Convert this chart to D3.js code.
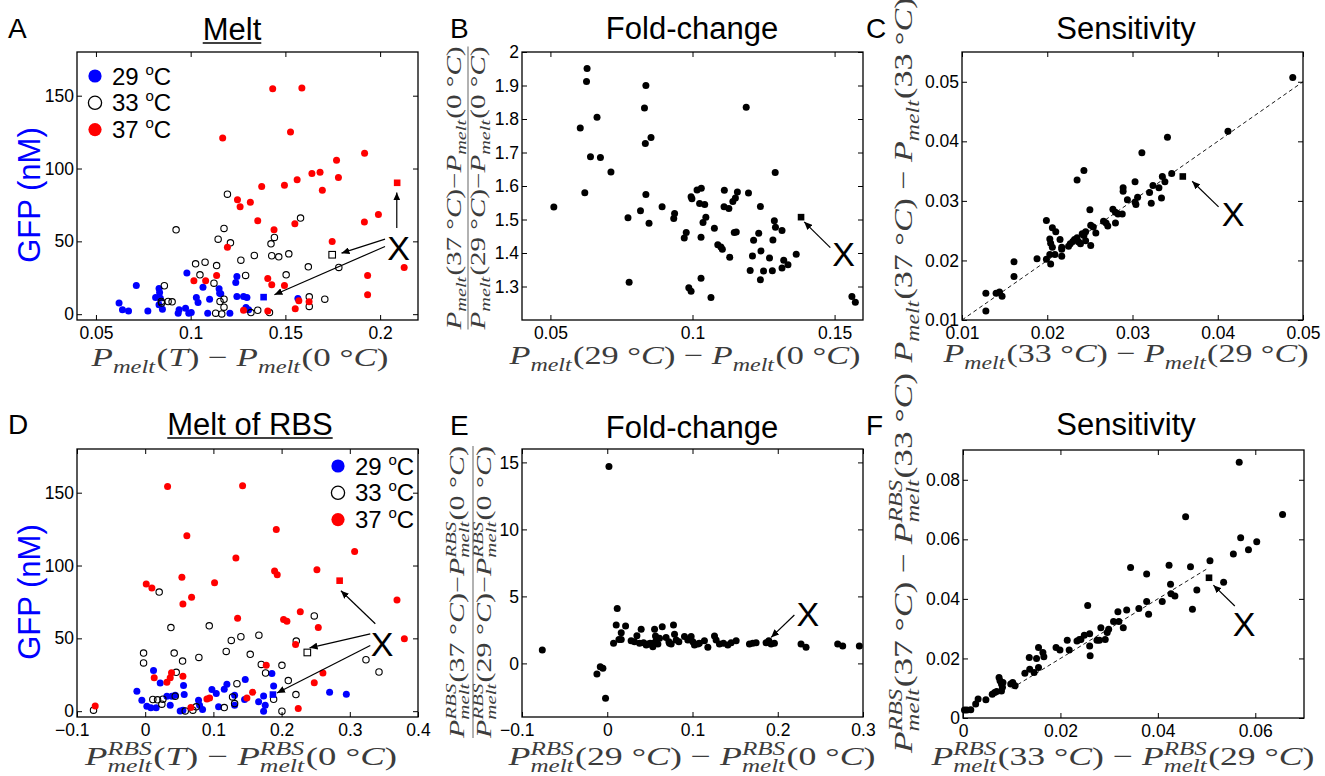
<!DOCTYPE html>
<html>
<head>
<meta charset="utf-8">
<script src="https://cdn.jsdelivr.net/npm/d3@7"></script>
<style>
  body { margin: 0; background: #fff; }
  svg { display: block; font-family: "Liberation Sans", Arial, Helvetica, sans-serif; }
  .math text { font-family: "Liberation Serif", "DejaVu Serif", serif; fill: #3c3c3c; white-space: pre; }
</style>
</head>
<body>
<svg id="fig" width="1325" height="776"></svg>
<script>

// ---- data ----

// A: GFP vs Pmelt(T) - Pmelt(0C)
const meltA29 = [[0.0622,7.6],[0.064,3],[0.0672,2.1],[0.0713,19.7],[0.0774,2.1],[0.0815,11.4],[0.0833,17.6],[0.0836,14.9],
  [0.0833,6.4],[0.0851,3.4],[0.084,11],[0.0934,0.7],[0.0939,3],[0.0973,4.1],[0.098,28.2],[0.099,0.7],[0.1003,1.1],
  [0.103,11.4],[0.1039,8],[0.1065,18.5],[0.109,0.7],[0.11,10.3],[0.115,17.4],[0.1153,14.4],[0.1159,14],[0.1207,0.7],
  [0.1238,21.8],[0.1244,25.9],[0.1244,12.1],[0.1279,12.1],[0.1297,11.4],[0.1292,4.6],[0.1306,3],[0.1566,10.8]];
const meltA33 = [[0.0923,57.9],[0.1194,82.4],[0.1176,58.9],[0.1145,51.5],[0.121,49],[0.1442,52.7],[0.1424,48.3],[0.158,66],
  [0.1026,34.6],[0.1076,35.7],[0.1049,27],[0.1137,33.4],[0.1265,37.1],[0.1336,40.3],[0.1428,40.1],[0.1465,39.4],
  [0.1518,41.4],[0.1123,21.3],[0.129,26.6],[0.1504,27],[0.0861,19.5],[0.0845,8.7],[0.0881,8.7],[0.0902,8.5],
  [0.0847,7.6],[0.1155,8.7],[0.1176,10.3],[0.1176,4.8],[0.1132,0.7],[0.1164,0.2],[0.1318,1.1],[0.1354,2.7],
  [0.1416,1.1],[0.1621,32.5],[0.1782,32.1],[0.1626,11.9],[0.1626,5.3],[0.1708,10.3]];
const meltA37 = [[0.1433,154.8],[0.1587,155.3],[0.1169,120.9],[0.1527,125],[0.1918,110.4],[0.177,105.6],[0.1683,97.5],
  [0.164,96.6],[0.178,93.9],[0.1562,92.3],[0.1495,88.6],[0.1375,87.7],[0.1695,85],[0.1247,78.5],[0.1315,76.9],
  [0.1261,73.7],[0.1354,64.1],[0.1991,68.5],[0.1917,63.2],[0.155,62.1],[0.144,57.9],[0.1747,49.9],[0.1194,46],
  [0.2127,32.1],[0.1017,22.9],[0.1079,22.9],[0.1137,26.6],[0.1407,24.5],[0.1428,20.2],[0.1495,19.7],[0.1934,26.6],
  [0.1934,13.3],[0.1279,2.7],[0.1407,2.1],[0.1552,3.7],[0.1571,9.2],[0.1625,8.5]];
const meltAX = [[0.1385,11.7],[0.1747,40.8],[0.209,90.2]]; // sequence X at 29, 33, 37 C

// B: fold-change vs Pmelt(29C) - Pmelt(0C)
const foldB = [[0.0512,1.537],[0.0605,1.773],[0.0629,1.951],[0.0627,1.912],[0.0664,1.805],[0.0641,1.687],[0.0676,1.685],
  [0.0621,1.58],[0.0713,1.642],[0.0773,1.505],[0.0777,1.313],[0.0817,1.526],[0.0836,1.9],[0.0831,1.833],[0.0834,1.727],
  [0.0854,1.745],[0.0836,1.575],[0.0847,1.489],[0.0893,1.538],[0.0934,1.503],[0.0937,1.518],[0.0978,1.461],[0.0971,1.445],
  [0.0995,1.568],[0.0998,1.562],[0.0987,1.296],[0.0995,1.286],[0.1016,1.588],[0.1031,1.593],[0.1025,1.548],[0.1043,1.545],
  [0.103,1.447],[0.1037,1.491],[0.1047,1.507],[0.103,1.325],[0.1065,1.267],[0.1077,1.474],[0.1089,1.425],[0.11,1.418],
  [0.1105,1.411],[0.1112,1.587],[0.1111,1.538],[0.1128,1.533],[0.1131,1.387],[0.1142,1.554],[0.1151,1.564],[0.1158,1.582],
  [0.1147,1.461],[0.1154,1.463],[0.1189,1.835],[0.1197,1.579],[0.1203,1.348],[0.1211,1.391],[0.1215,1.438],[0.1233,1.459],
  [0.1239,1.539],[0.1241,1.406],[0.1239,1.32],[0.125,1.346],[0.1271,1.385],[0.1281,1.347],[0.1283,1.439],[0.1288,1.496],
  [0.1292,1.477],[0.1291,1.64],[0.1315,1.467],[0.1315,1.355],[0.1321,1.378],[0.1336,1.365],[0.1365,1.396],
  [0.1561,1.27],[0.1573,1.253]];
const foldBX = [[0.1382,1.507]];

// C: sensitivity, Pmelt(37)-Pmelt(33) vs Pmelt(33)-Pmelt(29)
const sensC = [[0.0128,0.0115],[0.0128,0.0145],[0.014,0.0145],[0.0144,0.0147],[0.0147,0.014],[0.0161,0.0198],[0.0161,0.0173],
  [0.0188,0.0203],[0.0199,0.0267],[0.0199,0.0202],[0.0203,0.0236],[0.0204,0.0229],[0.0206,0.0222],[0.0204,0.0194],
  [0.0203,0.021],[0.0206,0.0255],[0.021,0.0248],[0.0209,0.021],[0.0215,0.0235],[0.0217,0.0222],[0.0217,0.0219],
  [0.0217,0.0207],[0.0225,0.0224],[0.0227,0.0228],[0.023,0.0232],[0.0232,0.0235],[0.0235,0.0238],[0.0235,0.0335],
  [0.0243,0.0351],[0.0237,0.0231],[0.0239,0.0228],[0.0241,0.0245],[0.0243,0.0242],[0.0245,0.0248],[0.025,0.0285],
  [0.0251,0.0259],[0.0254,0.0256],[0.0251,0.0225],[0.0245,0.0233],[0.0257,0.0246],[0.0266,0.0266],[0.0269,0.0263],
  [0.0271,0.0258],[0.0277,0.0286],[0.028,0.0281],[0.0283,0.0278],[0.028,0.0263],[0.0288,0.0278],[0.0289,0.0322],
  [0.0289,0.0316],[0.0294,0.0302],[0.0303,0.0332],[0.0303,0.0298],[0.0304,0.0294],[0.0306,0.0306],[0.0311,0.0381],
  [0.032,0.0314],[0.0322,0.0296],[0.0324,0.0326],[0.0331,0.0322],[0.0334,0.0305],[0.0335,0.0341],[0.0338,0.0332],
  [0.0341,0.0407],[0.0346,0.0346],[0.0412,0.0417],[0.0488,0.0507]];
const sensCX = [[0.0359,0.0341]];

// D: GFP vs Pmelt^RBS(T) - Pmelt^RBS(0C)
const rbsD29 = [[-0.0122,13.7],[-0.0049,7.5],[0.0024,3.4],[0.0083,2.3],[0.0161,2.3],[0.0122,28],[0.022,19.4],[0.0318,10.3],
  [0.0367,4.1],[0.0391,10.3],[0.044,10.9],[0.0513,0.2],[0.0553,0.7],[0.0562,17.6],[0.0572,11.4],[0.0782,7.5],[0.0797,4.1],
  [0.0841,1.1],[0.0978,14.8],[0.1042,12.1],[0.1076,3],[0.1159,15],[0.1198,18.5],[0.1311,4.1],[0.1311,10.9],[0.1467,21.7],
  [0.1457,8],[0.1663,6.4],[0.1736,10.5],[0.176,4.1],[0.1736,0],[0.1858,25.8],[0.1883,17.3],[0.2704,13],[0.2949,11.6]];
const rbsD33 = [[-0.0758,0.7],[-0.0024,39.9],[-0.0024,33.1],[0.0205,81.8],[0.0112,8],[0.0181,7.8],[0.0259,8.2],[0.0244,4.8],
  [0.0377,57.4],[0.0425,39.9],[0.0455,26.7],[0.044,10.3],[0.0548,34.4],[0.0587,0.2],[0.0699,0.7],[0.0748,3],[0.0787,36.9],
  [0.0939,58.6],[0.1159,2.5],[0.1188,41],[0.1262,48.6],[0.1281,9.8],[0.1311,5.2],[0.1345,18.9],[0.1403,51.1],[0.154,39],
  [0.1667,52.2],[0.1702,32.1],[0.1765,26.2],[0.1883,8.2],[0.2005,31.5],[0.2005,0],[0.2098,21],[0.221,11.4],[0.2215,48.1],
  [0.2479,65.4],[0.3237,35.3],[0.3428,26.9]];
const rbsD37 = [[-0.0733,3.6],[0.0015,87.3],[0.0098,84.6],[0.0132,23],[0.0328,154.3],[0.0318,19.8],[0.0367,23],[0.0386,26.4],
  [0.0553,23.9],[0.0538,91.9],[0.0553,73.6],[0.0611,120.4],[0.068,78.2],[0.067,2.5],[0.0905,8.4],[0.0944,9.1],[0.1017,88.2],
  [0.133,105.1],[0.1355,63.8],[0.1428,154.8],[0.1491,9.1],[0.1575,13],[0.1775,31.5],[0.1897,96.2],[0.1936,93.7],
  [0.1922,124.7],[0.2029,62.9],[0.2078,61.8],[0.2205,45.8],[0.2244,1.8],[0.2274,68.2],[0.2479,19.6],[0.2518,97.1],
  [0.2538,57.4],[0.2606,26.2],[0.3071,109.6],[0.3692,76.4],[0.38,49.7]];
const rbsDX = [[0.1873,11.4],[0.2377,40.3],[0.2851,89.6]];

// E: fold-change of RBS melt vs Pmelt^RBS(29C) - Pmelt^RBS(0C)
const foldE = [[-0.0762,1.0],[0.002,14.7],[-0.0121,-0.8],[-0.0082,-0.25],[-0.0051,-0.37],[-0.002,-2.6],[0.0117,4.1],
  [0.0105,2.87],[0.0215,2.79],[0.0164,2.29],[0.0164,1.79],[0.0137,1.79],[0.0074,1.5],[0.0348,2.07],[0.0398,2.54],
  [0.032,1.62],[0.0379,1.5],[0.0426,1.55],[0.0477,1.45],[0.0504,1.5],[0.0527,1.37],[0.0555,1.55],[0.0574,1.69],
  [0.0535,1.25],[0.0555,2.54],[0.0645,2.74],[0.0566,2.04],[0.069,1.94],[0.0723,1.62],[0.073,1.5],[0.0777,2.87],
  [0.0789,2.17],[0.0809,1.74],[0.084,1.62],[0.0906,2.0],[0.0945,1.74],[0.0984,2.0],[0.1004,1.62],[0.1023,1.37],
  [0.1063,1.45],[0.114,1.69],[0.118,1.2],[0.1258,2.04],[0.1277,1.74],[0.1316,1.45],[0.1363,1.5],[0.1414,1.37],
  [0.1453,1.55],[0.1512,1.69],[0.1668,1.45],[0.1707,1.5],[0.1746,1.55],[0.1863,1.55],[0.1895,1.69],[0.1922,1.45],
  [0.1961,1.5],[0.2273,1.45],[0.2332,1.2],[0.2703,1.45],[0.2762,1.3],[0.2957,1.3],[0.028,1.69],[0.0457,1.37],
  [0.0594,1.45],[0.0613,1.87],[0.075,1.45],[0.108,1.5]];

// F: sensitivity of RBS melt
const sensF = [[0.0003,0.0027],[0.0008,0.0027],[0.0016,0.0028],[0.0026,0.0047],[0.0031,0.0064],[0.0047,0.0061],
  [0.006,0.008],[0.0065,0.0086],[0.0069,0.0089],[0.0074,0.0136],[0.0076,0.0125],[0.0079,0.0114],[0.0082,0.0119],
  [0.0079,0.0091],[0.0081,0.0103],[0.0098,0.0114],[0.0102,0.0119],[0.0107,0.0108],[0.0127,0.015],[0.0136,0.0203],
  [0.0137,0.0164],[0.0146,0.0153],[0.0151,0.02],[0.0155,0.017],[0.0155,0.0237],[0.0164,0.022],[0.0166,0.0206],
  [0.0191,0.0237],[0.0199,0.0228],[0.0214,0.0261],[0.0218,0.0228],[0.0234,0.0259],[0.0239,0.0264],[0.0242,0.0264],
  [0.0249,0.0278],[0.026,0.0283],[0.0256,0.0378],[0.026,0.0242],[0.0261,0.0209],[0.0275,0.0261],[0.028,0.0261],
  [0.0283,0.0303],[0.0292,0.0264],[0.0296,0.0287],[0.0299,0.0298],[0.0309,0.0324],[0.0318,0.0357],[0.032,0.0324],
  [0.0329,0.0303],[0.0336,0.0363],[0.0344,0.0505],[0.0361,0.0368],[0.0377,0.0391],[0.0381,0.0348],[0.0377,0.0484],
  [0.0409,0.0391],[0.0423,0.0513],[0.0426,0.0449],[0.0427,0.0417],[0.0435,0.041],[0.0457,0.0676],[0.0467,0.0508],
  [0.0471,0.0365],[0.048,0.043],[0.0507,0.0528],[0.0535,0.0456],[0.0555,0.0551],[0.0567,0.0859],[0.057,0.0605],
  [0.0586,0.0565],[0.0603,0.0592],[0.0656,0.0683]];
const sensFX = [[0.0505,0.0471]];

// y = x reference segments for the sensitivity panels
const diagC = [0.01, 0.05];
const diagF = [0.01, 0.05];

// tick values
const ticksMeltX = [0.05, 0.1, 0.15, 0.2];
const ticksGFP = [0, 50, 100, 150];
const ticksFoldBX = [0.05, 0.1, 0.15];
const ticksFoldBY = [1.3, 1.4, 1.5, 1.6, 1.7, 1.8, 1.9, 2];
const ticksSensC = [0.01, 0.02, 0.03, 0.04, 0.05];
const ticksRbsX = [-0.1, 0, 0.1, 0.2, 0.3, 0.4];
const ticksFoldEX = [-0.1, 0, 0.1, 0.2, 0.3];
const ticksFoldEY = [0, 5, 10, 15];
const ticksSensFX = [0, 0.02, 0.04, 0.06];
const ticksSensFY = [0, 0.02, 0.04, 0.06, 0.08];

const tempLabels = ["29", "33", "37"];
const tempColors = ["#0000ff", "none", "#ff0000"];

// ---- drawing ----

const svg = d3.select("#fig");
const W = 341, H = 268;

const defs = svg.append("defs");
defs.append("marker")
  .attr("id", "head")
  .attr("viewBox", "0 -3.5 8 7")
  .attr("refX", 8).attr("refY", 0)
  .attr("markerWidth", 8).attr("markerHeight", 7)
  .attr("markerUnits", "userSpaceOnUse")
  .attr("orient", "auto")
  .append("path").attr("d", "M0,-3.5L8,0L0,3.5Z").attr("fill", "#000");

function fmt(d) {
  const v = Math.abs(+d.toFixed(4));
  return (d < 0 ? "\u2212" : "") + v;
}

function panel(p) {
  const g = svg.append("g").attr("transform", `translate(${p.left},${p.top})`);
  const x = d3.scaleLinear().domain(p.xDomain).range([0, W]);
  const y = d3.scaleLinear().domain(p.yDomain).range([H, 0]);

  g.append("rect").attr("width", W).attr("height", H).attr("fill", "#fff");

  g.append("g").attr("transform", `translate(0,${H})`)
    .call(d3.axisBottom(x).tickValues(p.xTicks).tickSize(-5).tickPadding(7).tickFormat(fmt));
  g.append("g")
    .call(d3.axisTop(x).tickValues(p.xTicks).tickSize(-5).tickFormat(""));
  g.append("g")
    .call(d3.axisLeft(y).tickValues(p.yTicks).tickSize(-5).tickPadding(3).tickFormat(fmt));
  g.append("g").attr("transform", `translate(${W},0)`)
    .call(d3.axisRight(y).tickValues(p.yTicks).tickSize(-5).tickFormat(""));

  g.selectAll(".domain").remove();
  g.selectAll(".tick line").attr("stroke", "#000");
  g.selectAll(".tick text")
    .attr("font-size", 17.5)
    .attr("font-family", '"Liberation Sans", Arial, sans-serif')
    .attr("fill", "#000")
    .attr("dx", d => d < 0 ? "-0.3em" : null);

  const marks = g.append("g");
  g.append("rect").attr("width", W).attr("height", H)
    .attr("fill", "none").attr("stroke", "#000").attr("stroke-width", 1.3);

  return { g, marks, x, y };
}

function dots(P, data, fill, r) {
  P.marks.selectAll(null).data(data).join("circle")
    .attr("cx", d => P.x(d[0])).attr("cy", d => P.y(d[1]))
    .attr("r", r || 3.5)
    .attr("fill", fill === "none" ? "none" : fill)
    .attr("stroke", fill === "none" ? "#000" : "none")
    .attr("stroke-width", 1.1);
}

function squares(P, data, fills) {
  P.marks.selectAll(null).data(data).join("rect")
    .attr("x", d => P.x(d[0]) - 3.3).attr("y", d => P.y(d[1]) - 3.3)
    .attr("width", 6.6).attr("height", 6.6)
    .attr("fill", (d, i) => fills[i] === "none" ? "#fff" : fills[i])
    .attr("stroke", (d, i) => fills[i] === "none" ? "#000" : "none")
    .attr("stroke-width", 1.1);
}

function annotate(P, label, arrows) {
  arrows.forEach(a => {
    P.marks.append("line")
      .attr("x1", P.x(a[0])).attr("y1", P.y(a[1]))
      .attr("x2", P.x(a[2])).attr("y2", P.y(a[3]))
      .attr("stroke", "#000").attr("stroke-width", 1.2)
      .attr("marker-end", "url(#head)");
  });
  P.marks.append("text")
    .attr("x", P.x(label[0])).attr("y", P.y(label[1]))
    .attr("text-anchor", "middle").attr("dominant-baseline", "central")
    .attr("font-size", 34).attr("fill", "#000").text("X");
}

function diagonal(P, seg) {
  P.marks.append("line")
    .attr("x1", P.x(seg[0])).attr("y1", P.y(seg[0]))
    .attr("x2", P.x(seg[1])).attr("y2", P.y(seg[1]))
    .attr("stroke", "#000").attr("stroke-width", 0.9)
    .attr("stroke-dasharray", "4,3");
}

function legend(x0, y0) {
  const lg = svg.append("g").attr("transform", `translate(${x0},${y0})`);
  tempLabels.forEach((t, i) => {
    const row = lg.append("g").attr("transform", `translate(0,${i * 26.8})`);
    row.append("circle").attr("r", 6.6)
      .attr("fill", tempColors[i] === "none" ? "none" : tempColors[i])
      .attr("stroke", tempColors[i] === "none" ? "#000" : "none")
      .attr("stroke-width", 1.3);
    const tx = row.append("text").attr("x", 17).attr("y", 8.5)
      .attr("font-size", 24).attr("fill", "#000").style("white-space", "pre");
    tx.append("tspan").text(t + " ");
    tx.append("tspan").attr("font-size", 15).attr("dy", -10).text("o");
    tx.append("tspan").attr("dy", 10).text("C");
  });
}

// math-style labels (LaTeX look)
function mathRun(g, tokens, size) {
  let x = 0;
  tokens.forEach(tk => {
    if (tk.sub || tk.sup) {
      let w = 0;
      if (tk.sup) {
        const t = g.append("text").attr("x", x).attr("y", -0.4 * size)
          .attr("font-size", 0.7 * size).attr("font-style", "italic").text(tk.sup);
        w = Math.max(w, t.node().getComputedTextLength());
      }
      if (tk.sub) {
        const t = g.append("text").attr("x", x).attr("y", 0.27 * size)
          .attr("font-size", 0.7 * size).attr("font-style", "italic").text(tk.sub);
        w = Math.max(w, t.node().getComputedTextLength());
      }
      x += w + 0.04 * size;
    } else {
      const t = g.append("text").attr("x", x).attr("font-size", size)
        .attr("font-style", tk.i ? "italic" : "normal").text(tk.s);
      x += t.node().getComputedTextLength();
    }
  });
  return x;
}

const pm = rbs => [{ s: "P", i: true }, { sub: "melt", sup: rbs ? "RBS" : null }];
const arg = t => t === "T"
  ? [{ s: "(" }, { s: "T", i: true }, { s: ")" }]
  : [{ s: "(" + t + " \u00b0" }, { s: "C", i: true }, { s: ")" }];
const diff = (rbs, a, b, spaced) =>
  [...pm(rbs), ...arg(a), { s: spaced ? " \u2212 " : "\u2212" }, ...pm(rbs), ...arg(b)];

// (cx, cy) is the centre of the baseline; text is stretched along its run to length len
function placeMath(tokens, cx, cy, len, rot, size) {
  const g = svg.append("g").attr("class", "math");
  const inner = g.append("g");
  const w = mathRun(inner, tokens, size);
  inner.attr("transform", `translate(${-w / 2},0)`);
  g.attr("transform", `translate(${cx},${cy}) rotate(${rot || 0}) scale(${len / w},1)`);
}

function placeFrac(num, den, cx, cy, len, rot, size, numOff, denOff) {
  const g = svg.append("g").attr("class", "math");
  const n = g.append("g"), d = g.append("g");
  const wn = mathRun(n, num, size), wd = mathRun(d, den, size);
  const w = Math.max(wn, wd);
  n.attr("transform", `translate(${-wn / 2},${numOff})`);
  d.attr("transform", `translate(${-wd / 2},${denOff})`);
  g.append("line").attr("x1", -w / 2).attr("x2", w / 2).attr("y1", 0).attr("y2", 0)
    .attr("stroke", "#666").attr("stroke-width", 1);
  g.attr("transform", `translate(${cx},${cy}) rotate(${rot || 0}) scale(${len / w},1)`);
}

function title(text, cx, y, underline) {
  const t = svg.append("text").attr("x", cx).attr("y", y)
    .attr("text-anchor", "middle").attr("font-size", 31).attr("fill", "#000").text(text);
  if (underline) {
    const w = t.node().getComputedTextLength();
    svg.append("line").attr("x1", cx - w / 2).attr("x2", cx + w / 2)
      .attr("y1", y + 3).attr("y2", y + 3).attr("stroke", "#000").attr("stroke-width", 1.6);
  }
}

function letter(s, x, y) {
  svg.append("text").attr("x", x).attr("y", y).attr("font-size", 28).attr("fill", "#000").text(s);
}

function gfpLabel(cy) {
  svg.append("text").attr("transform", `translate(40,${cy}) rotate(-90)`)
    .attr("text-anchor", "middle").attr("font-size", 31).attr("fill", "#0000ff").text("GFP (nM)");
}

// ---- panel A ----
const A = panel({ left: 77, top: 52, xDomain: [0.04, 0.22], yDomain: [-4, 180], xTicks: ticksMeltX, yTicks: ticksGFP });
dots(A, meltA29, tempColors[0]);
dots(A, meltA33, tempColors[1], 3.2);
dots(A, meltA37, tempColors[2]);
squares(A, meltAX, tempColors);
annotate(A, [0.2097, 45.3], [[0.2088, 59.1, 0.2088, 83.6], [0.2026, 51.5, 0.1796, 41.9], [0.2026, 46.5, 0.1442, 13.3]]);
legend(95, 76);

// ---- panel B ----
const B = panel({ left: 522, top: 52, xDomain: [0.04, 0.16], yDomain: [1.2, 2], xTicks: ticksFoldBX, yTicks: ticksFoldBY });
dots(B, foldB, "#000");
squares(B, foldBX, ["#000"]);
annotate(B, [0.1532, 1.398], [[0.1485, 1.416, 0.1393, 1.493]]);

// ---- panel C ----
const C = panel({ left: 962, top: 52, xDomain: [0.01, 0.05], yDomain: [0.01, 0.055], xTicks: ticksSensC, yTicks: ticksSensC });
diagonal(C, diagC);
dots(C, sensC, "#000");
squares(C, sensCX, ["#000"]);
annotate(C, [0.0418, 0.0278], [[0.0401, 0.029, 0.037, 0.0333]]);

// ---- panel D ----
const D = panel({ left: 77, top: 449, xDomain: [-0.1, 0.4], yDomain: [-4, 180], xTicks: ticksRbsX, yTicks: ticksGFP });
dots(D, rbsD29, tempColors[0]);
dots(D, rbsD33, tempColors[1], 3.2);
dots(D, rbsD37, tempColors[2]);
squares(D, rbsDX, tempColors);
annotate(D, [0.3472, 45.8], [[0.3374, 60, 0.287, 82.7], [0.33, 53.1, 0.241, 43.5], [0.33, 45.1, 0.1932, 12.5]]);
legend(338, 466);

// ---- panel E ----
const E = panel({ left: 522, top: 449, xDomain: [-0.1, 0.3], yDomain: [-4, 16], xTicks: ticksFoldEX, yTicks: ticksFoldEY });
dots(E, foldE, "#000");
annotate(E, [0.2352, 3.69], [[0.2195, 3.61, 0.1922, 1.94]]);

// ---- panel F ----
const F = panel({ left: 963, top: 450, xDomain: [0, 0.07], yDomain: [0, 0.09], xTicks: ticksSensFX, yTicks: ticksSensFY });
diagonal(F, diagF);
dots(F, sensF, "#000");
squares(F, sensFX, ["#000"]);
annotate(F, [0.0577, 0.0315], [[0.0558, 0.0376, 0.0514, 0.0446]]);

// ---- titles, letters, axis labels ----
title("Melt", 232, 40, true);
title("Fold-change", 692, 39);
title("Sensitivity", 1126, 39);
title("Melt of RBS", 250, 435, true);
title("Fold-change", 692, 438);
title("Sensitivity", 1126, 435);

letter("A", 8, 38);
letter("B", 450, 38);
letter("C", 866, 38);
letter("D", 8, 434);
letter("E", 450, 435);
letter("F", 866, 435);

gfpLabel(195);
gfpLabel(592);

placeMath(diff(false, "T", "0", true), 240, 366, 297, 0, 26);
placeMath(diff(false, "29", "0", true), 685, 364, 351, 0, 26);
placeMath(diff(false, "33", "29", true), 1126, 362, 365, 0, 26);
placeMath(diff(true, "T", "0", true), 241, 765, 312, 0, 26);
placeMath(diff(true, "29", "0", true), 692, 765, 367, 0, 26);
placeMath(diff(true, "33", "29", true), 1123, 765, 383, 0, 26);

placeMath(diff(false, "37", "33", true), 912, 180, 365, -90, 26);
placeMath(diff(true, "37", "33", true), 912, 563, 380, -90, 26);
placeFrac(diff(false, "37", "0", false), diff(false, "29", "0", false), 468, 188, 283, -90, 20, -7, 17);
placeFrac(diff(true, "37", "0", false), diff(true, "29", "0", false), 473, 592, 292, -90, 20, -9, 18);

</script>
</body>
</html>
